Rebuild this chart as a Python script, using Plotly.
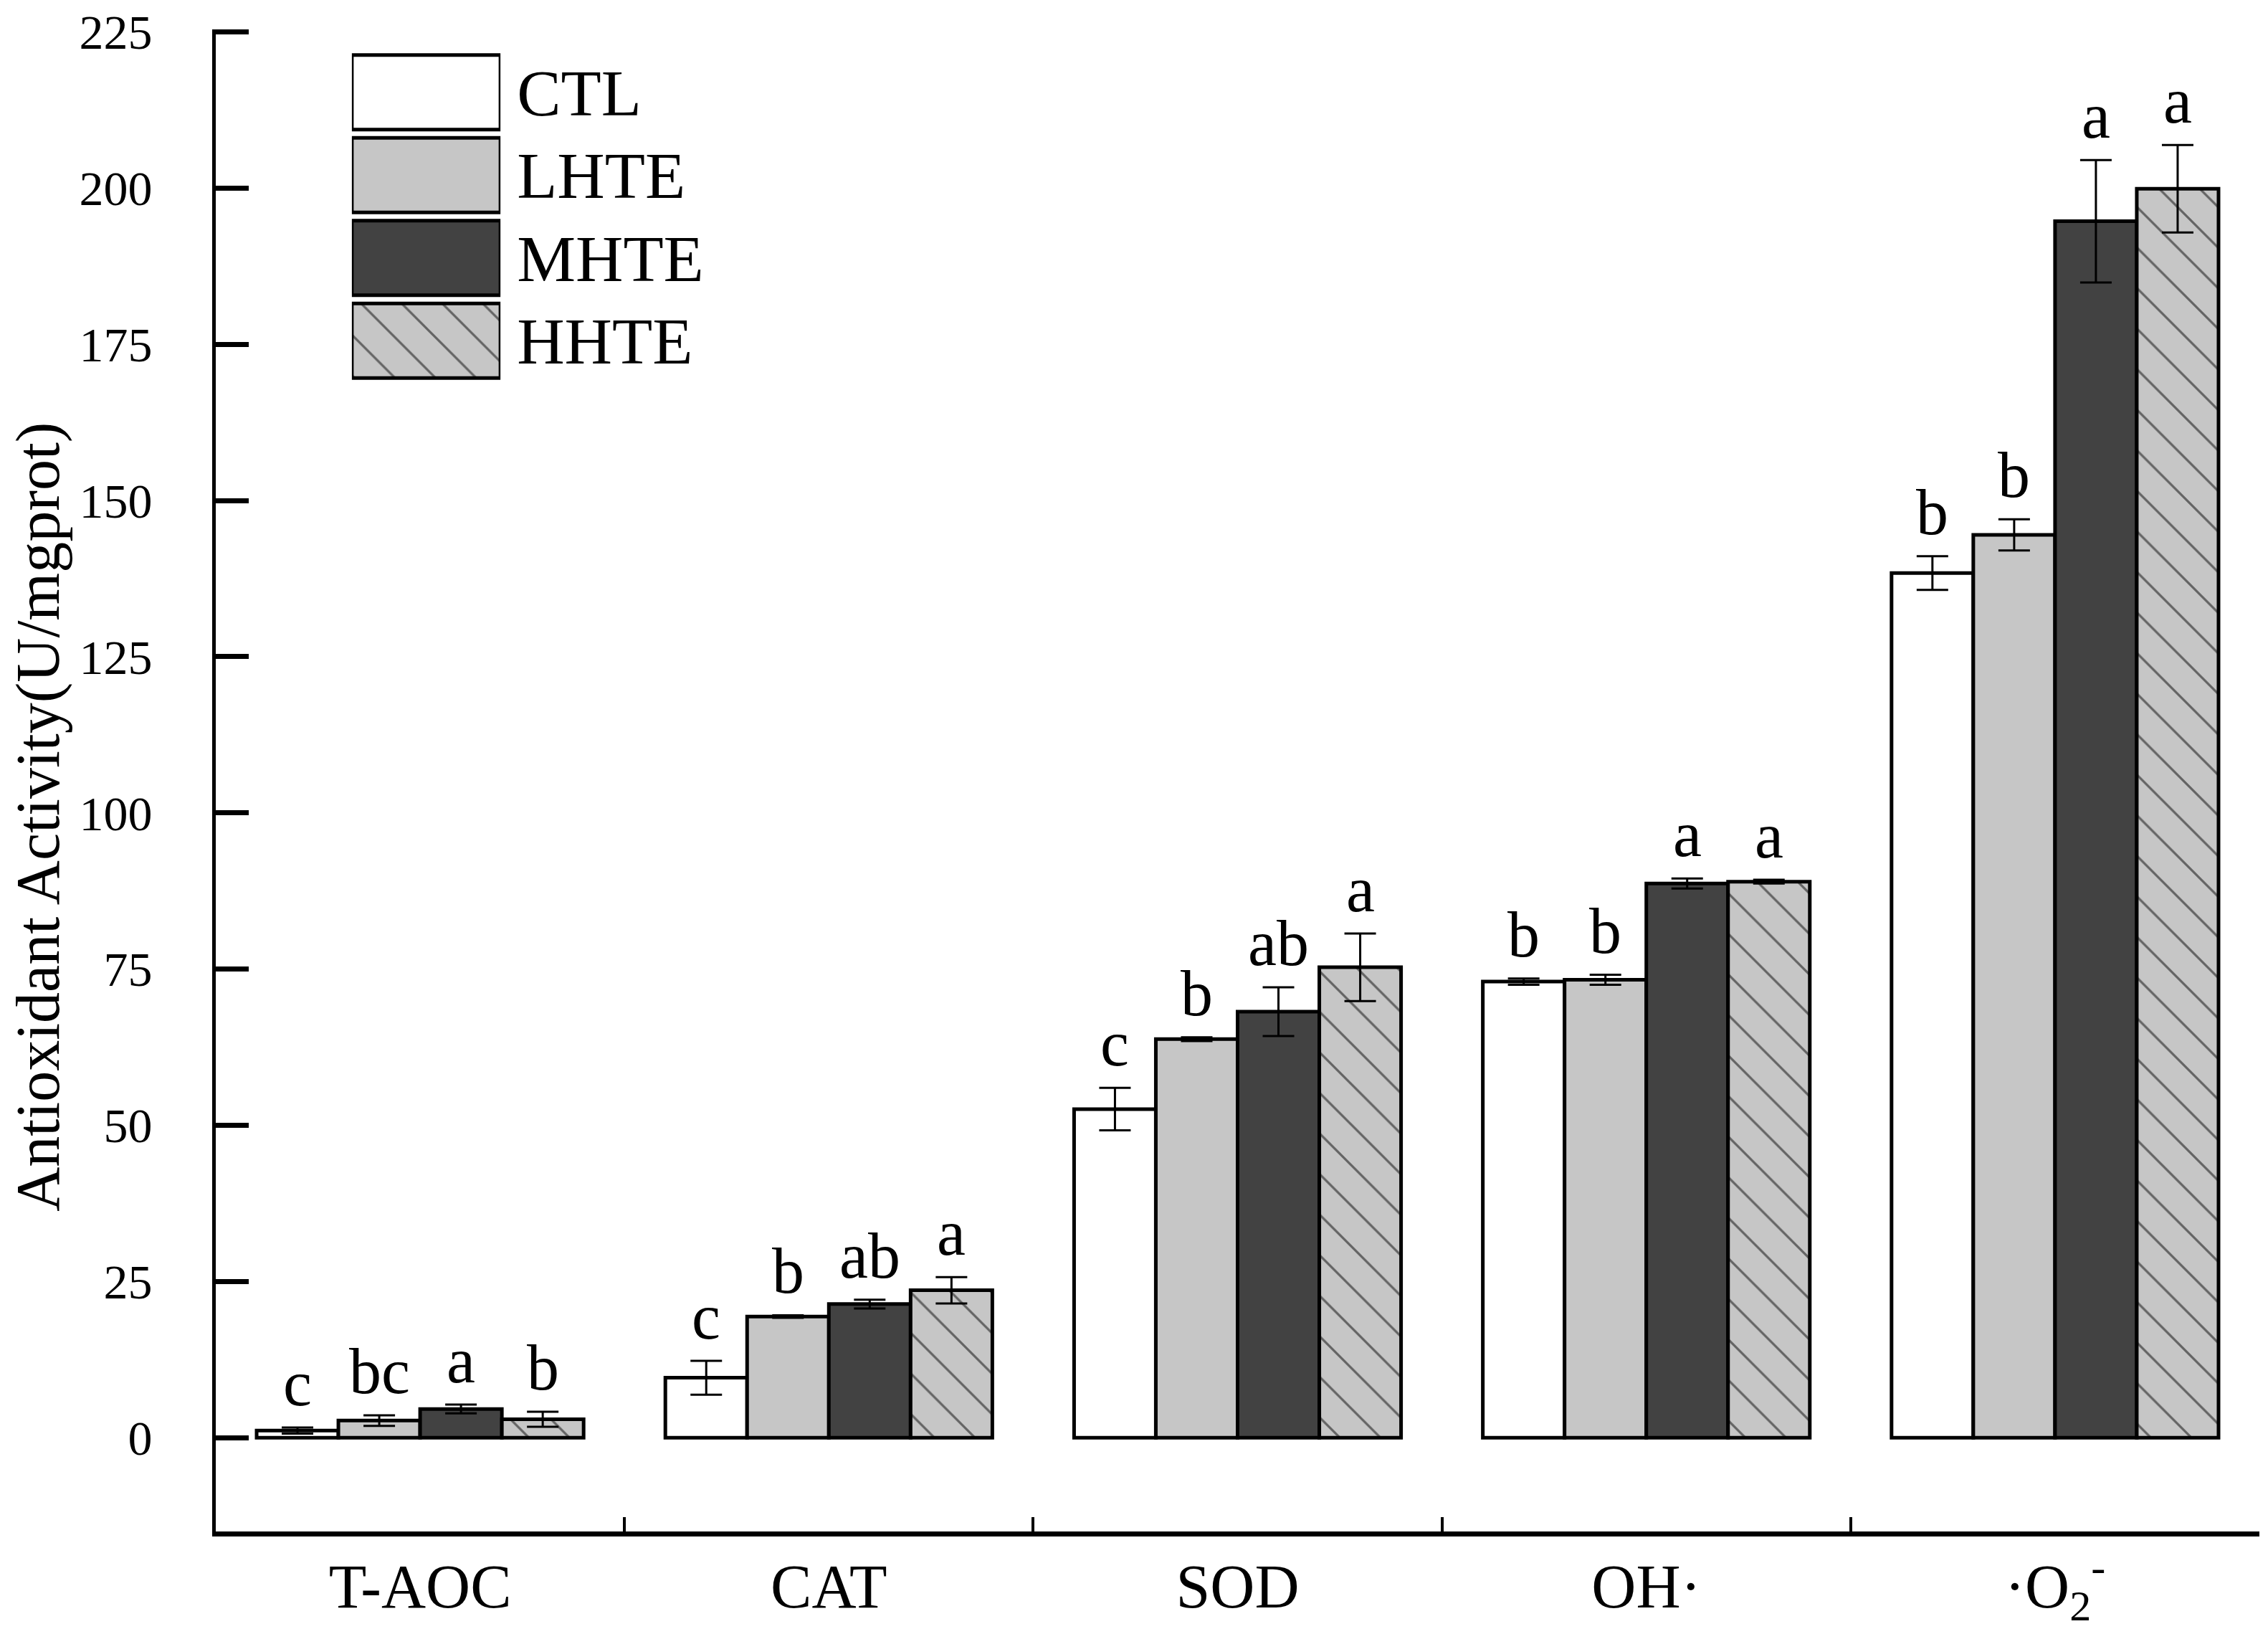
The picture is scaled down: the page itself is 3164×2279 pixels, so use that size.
"""grouped bar chart of antioxidant activity per index, bars per treatment, letters above error bars"""

import plotly.graph_objects as go

# categories on the x axis
indices = ["T-AOC", "CAT", "SOD", "OH·", "·O<sub>2</sub><sup>-</sup>"]
groups = ["CTL", "LHTE", "MHTE", "HHTE"]

# means and error bars (U/mgprot)
ctl = [1.15, 9.6, 52.6, 73.0, 138.4]
ctl_err = [0.5, 2.7, 3.4, 0.5, 2.7]
lhte = [2.75, 19.4, 63.8, 73.3, 144.5]
lhte_err = [0.85, 0.2, 0.3, 0.8, 2.5]
mhte = [4.6, 21.4, 68.2, 88.7, 194.7]
mhte_err = [0.7, 0.7, 3.9, 0.8, 9.8]
hhte = [2.95, 23.6, 75.3, 89.0, 199.9]
hhte_err = [1.2, 2.1, 5.4, 0.3, 7.0]

# significance letters
ctl_letters = ["c", "c", "c", "b", "b"]
lhte_letters = ["bc", "b", "b", "b", "b"]
mhte_letters = ["a", "ab", "ab", "a", "a"]
hhte_letters = ["b", "a", "a", "a", "a"]

y_ticks = [0, 25, 50, 75, 100, 125, 150, 175, 200, 225]

FONT = "Liberation Serif"
LIGHT = "#c6c6c6"
DARK = "#424242"

series = [
    (groups[0], ctl, ctl_err, ctl_letters, dict(color="white")),
    (groups[1], lhte, lhte_err, lhte_letters, dict(color=LIGHT)),
    (groups[2], mhte, mhte_err, mhte_letters, dict(color=DARK)),
    (
        groups[3],
        hhte,
        hhte_err,
        hhte_letters,
        dict(
            color=LIGHT,
            pattern=dict(
                shape="\\", fgcolor="black", bgcolor=LIGHT, size=40, solidity=0.08
            ),
        ),
    ),
]

bargap = 0.2
bar_w = (1 - bargap) / len(groups)

fig = go.Figure()
annotations = []

for k, (name, vals, errs, letters, mk) in enumerate(series):
    fig.add_trace(
        go.Bar(
            x=indices,
            y=vals,
            name=name,
            marker=dict(**mk, line=dict(color="black", width=5)),
            error_y=dict(
                type="data", array=errs, color="black", thickness=3, width=22
            ),
            showlegend=False,
        )
    )
    # letters above the error bars
    offset = -(1 - bargap) / 2 + bar_w * (k + 0.5)
    for i, (v, e, lt) in enumerate(zip(vals, errs, letters)):
        annotations.append(
            dict(
                x=i + offset,
                y=v + e,
                xref="x",
                yref="y",
                text=lt,
                showarrow=False,
                yanchor="bottom",
                yshift=10,
                font=dict(family=FONT, size=90, color="black"),
            )
        )

# legend drawn as a small inset bar chart so the boxes keep their size and hatch
for name, vals, errs, letters, mk in series:
    fig.add_trace(
        go.Bar(
            x=[1],
            y=[name],
            width=0.9,
            orientation="h",
            marker=dict(**mk, line=dict(color="black", width=5)),
            xaxis="x2",
            yaxis="y2",
            showlegend=False,
            hoverinfo="skip",
        )
    )

# y axis title
annotations.append(
    dict(
        x=-0.087,
        y=0.476,
        xref="paper",
        yref="paper",
        text="Antioxidant Activity(U/mgprot)",
        textangle=-90,
        showarrow=False,
        xanchor="center",
        yanchor="middle",
        font=dict(family=FONT, size=86, color="black"),
    )
)

# page body has an 8px margin, so the figure is 8px smaller than the window
fig.update_layout(
    width=3156,
    height=2271,
    plot_bgcolor="white",
    paper_bgcolor="white",
    font=dict(family=FONT, color="black"),
    margin=dict(l=293, r=12, t=33, b=143),
    barmode="group",
    bargap=bargap,
    bargroupgap=0,
    showlegend=False,
    annotations=annotations,
    # modify x-axis
    xaxis=dict(
        type="category",
        range=[-0.5, 4.5],
        showline=True,
        linecolor="black",
        linewidth=7,
        ticks="inside",
        tickson="boundaries",
        ticklen=20,
        tickwidth=4,
        tickcolor="black",
        showgrid=False,
        tickfont=dict(family=FONT, size=86, color="black"),
        ticklabelstandoff=-4,
        automargin=False,
    ),
    # modify y-axis (top slightly past 225 so its tick is drawn)
    yaxis=dict(
        range=[-15, 225.4],
        tickvals=y_ticks,
        showline=True,
        linecolor="black",
        linewidth=5,
        ticks="inside",
        ticklen=46,
        tickwidth=7,
        tickcolor="black",
        showgrid=False,
        zeroline=False,
        tickfont=dict(family=FONT, size=68, color="black"),
        ticklabelstandoff=70,
        ticklabeloverflow="allow",
        automargin=False,
    ),
    # inset axes for the legend boxes
    xaxis2=dict(
        domain=[0.0666, 0.1393],
        range=[0, 1],
        anchor="y2",
        visible=False,
        fixedrange=True,
        automargin=False,
    ),
    yaxis2=dict(
        domain=[0.7652, 0.9857],
        anchor="x2",
        side="right",
        type="category",
        categoryorder="array",
        categoryarray=groups[::-1],
        showline=False,
        showgrid=False,
        zeroline=False,
        ticks="",
        tickfont=dict(family=FONT, size=92, color="black"),
        ticklabelstandoff=22,
        fixedrange=True,
        automargin=False,
    ),
)

fig.write_html("out.html")
